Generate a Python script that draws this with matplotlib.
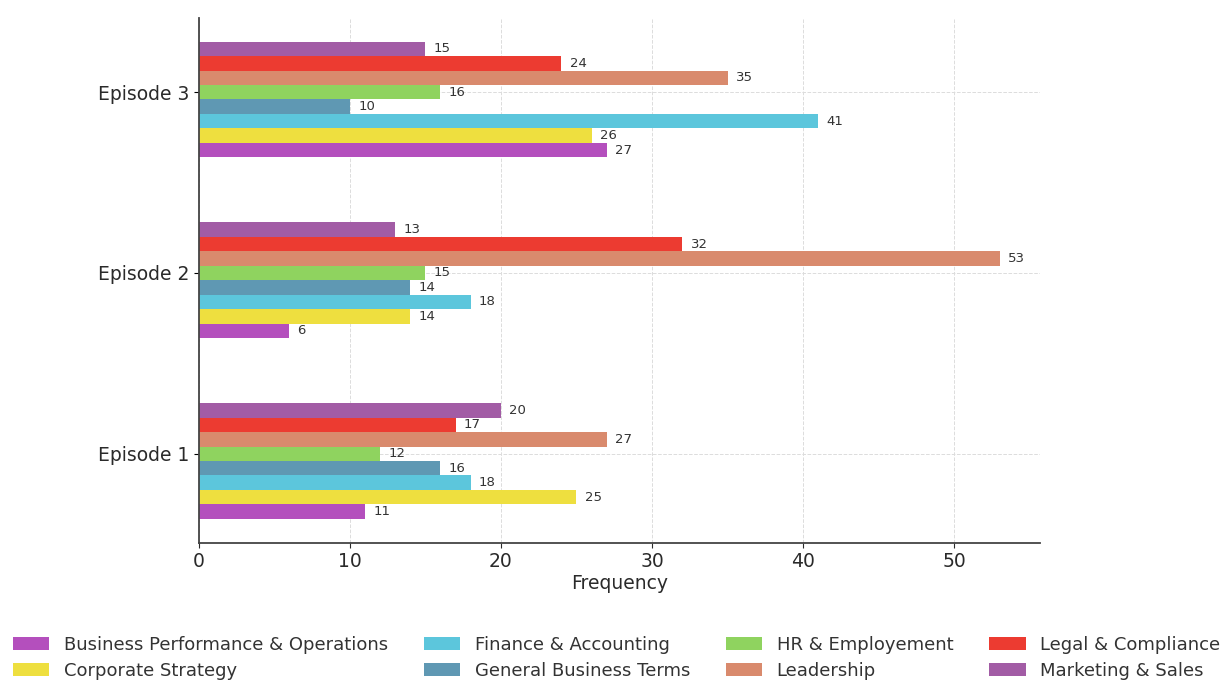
import numpy as np
import matplotlib.pyplot as plt

episodes = ['Episode 1', 'Episode 2', 'Episode 3']
categories = [
    'Business Performance & Operations',
    'Corporate Strategy',
    'Finance & Accounting',
    'General Business Terms',
    'HR & Employement',
    'Leadership',
    'Legal & Compliance',
    'Marketing & Sales',
]
# one list per category, values for episode 1, 2, 3
business_perf = [11, 6, 27]
corporate_strategy = [25, 14, 26]
finance = [18, 18, 41]
general_terms = [16, 14, 10]
hr = [12, 15, 16]
leadership = [27, 53, 35]
legal = [17, 32, 24]
marketing = [20, 13, 15]

series = [business_perf, corporate_strategy, finance, general_terms,
          hr, leadership, legal, marketing]
colors = ['#b44fbd', '#eedf3f', '#5cc6dc', '#5f98b3',
          '#8fd35f', '#d98a6d', '#ec3b31', '#a25ca5']

fig = plt.figure(figsize=(12.26, 6.81), dpi=100)
ax = fig.add_axes([0.162, 0.203, 0.686, 0.771])

y = np.arange(1, len(episodes) + 1)
h = 0.08
for j, (vals, name, col) in enumerate(zip(series, categories, colors)):
    bars = ax.barh(y + (j - 4) * h, vals, height=h, color=col, label=name)
    ax.bar_label(bars, padding=6, fontsize=9.5, color='#333333')

ax.set_yticks(y)
ax.set_yticklabels(episodes, fontsize=13.5, color='#2a2a2a')
ax.tick_params(axis='x', labelsize=13.5, colors='#2a2a2a')
ax.set_xlabel('Frequency', fontsize=13.5, color='#2a2a2a', labelpad=2)

ax.grid(True, linestyle='--', color='#dcdcdc', linewidth=0.7)
ax.set_axisbelow(True)
for s in ['top', 'right']:
    ax.spines[s].set_visible(False)
for s in ['left', 'bottom']:
    ax.spines[s].set_color('#444444')
    ax.spines[s].set_linewidth(1.3)

leg = fig.legend(loc='lower center', bbox_to_anchor=(0.503, -0.022), ncol=4,
                 frameon=False, fontsize=13, handlelength=2.0,
                 handletextpad=0.8, columnspacing=2.0, labelspacing=0.45)
for t in leg.get_texts():
    t.set_color('#333333')

plt.savefig('out.png', dpi=100)
plt.close()
